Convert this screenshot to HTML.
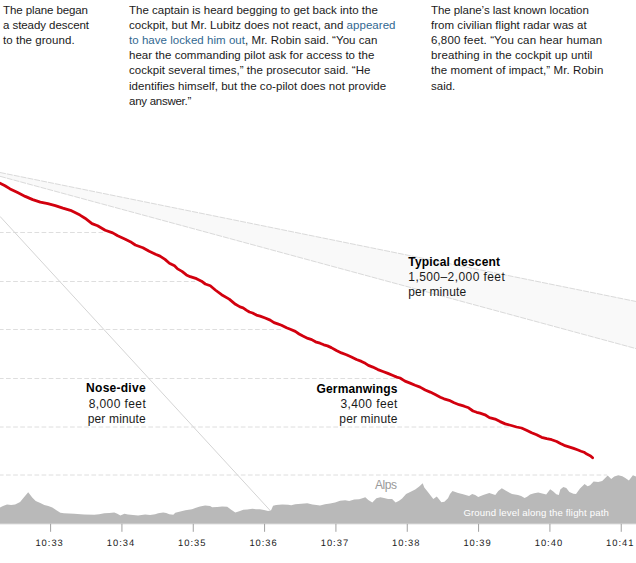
<!DOCTYPE html>
<html><head><meta charset="utf-8"><title>Germanwings descent</title>
<style>
html,body{margin:0;padding:0;background:#fff;}
body{width:636px;height:563px;overflow:hidden;position:relative;}
svg{position:absolute;left:0;top:0;display:block;}
text{font-family:"Liberation Sans",sans-serif;}
.p{font-size:11.5px;fill:#1a1a1a;}
.b{font-size:12px;font-weight:bold;fill:#000;}
.n{font-size:12px;fill:#1a1a1a;}
.ax{font-size:9.4px;fill:#1a1a1a;text-rendering:geometricPrecision;}
</style></head><body>
<svg width="636" height="563" viewBox="0 0 636 563">

<path d="M0,172.5 L636,301.48 L636,348.59 L0,176.3 Z" fill="#f9f9f9"/>
<line x1="0" y1="172.5" x2="636" y2="301.48" stroke="#dadada" stroke-width="1" stroke-dasharray="6,1"/>
<line x1="0" y1="176.3" x2="636" y2="348.59" stroke="#dadada" stroke-width="1" stroke-dasharray="6,1"/>
<line x1="0" y1="232.5" x2="103.3" y2="232.5" stroke="#dedede" stroke-width="1" stroke-dasharray="4.7,2.415" stroke-dashoffset="1.1"/>
<line x1="0" y1="281.5" x2="195.2" y2="281.5" stroke="#dedede" stroke-width="1" stroke-dasharray="4.7,2.415" stroke-dashoffset="1.1"/>
<line x1="0" y1="329.5" x2="281.5" y2="329.5" stroke="#dedede" stroke-width="1" stroke-dasharray="4.7,2.415" stroke-dashoffset="1.1"/>
<line x1="0" y1="378.5" x2="400" y2="378.5" stroke="#dedede" stroke-width="1" stroke-dasharray="4.7,2.415" stroke-dashoffset="1.1"/>
<line x1="0" y1="427" x2="509" y2="427" stroke="#dedede" stroke-width="1" stroke-dasharray="4.7,2.415" stroke-dashoffset="1.1"/>
<line x1="0" y1="475" x2="607" y2="475" stroke="#dedede" stroke-width="1" stroke-dasharray="4.7,2.415" stroke-dashoffset="1.1"/>
<line x1="0" y1="216.4" x2="269.8" y2="510.1" stroke="#d4d4d4" stroke-width="1"/>
<path d="M0,507.4 L3,506 L7,504.5 L11.1,505 L15.1,504.4 L20.1,502.1 L24.2,497.1 L28.2,492.3 L32.2,497.6 L35.7,501.1 L40.3,503.1 L44.3,505 L48.3,506 L52.3,507.4 L56.4,510.2 L60.4,512.7 L64,513.2 L74.1,513.7 L84.1,514.5 L94.2,514.7 L99.2,514.2 L104.3,513.2 L109.3,513 L114.3,512.5 L117.3,513.7 L120.4,515.4 L124.4,513.7 L128,514.6 L133,515 L138.1,515.4 L145.1,514.5 L150.1,514.9 L155.2,514.2 L158.2,513.2 L163.2,512.4 L166.2,513 L169.3,514.2 L173.3,514.7 L175.3,512.7 L180.3,511.4 L185.4,510.2 L192,509.2 L196,507.7 L200,506.4 L205.1,505.5 L210.1,506 L212.1,507.2 L217.2,506.9 L222.2,506.4 L227.2,506.7 L231.2,509.7 L235.3,512.4 L239.3,511.2 L243.3,509.7 L247.3,509.5 L252.4,508.7 L256,509.2 L260,509.2 L264,510 L268.1,511 L271.1,510.2 L273.1,505.7 L276.1,505 L282.2,504.5 L288.2,504.7 L291.2,505.2 L295.2,504.2 L301.3,503.7 L307.3,503.3 L312.4,504.4 L316.4,505 L320,505.4 L325,504.2 L330.1,503.4 L335.1,502.4 L340.1,500.7 L345.2,500.2 L349.2,501 L354.2,499.6 L359.2,499.3 L362.3,498.3 L365.3,497.3 L368.3,500 L372.3,502.4 L376.4,498.3 L380.4,497.3 L384,498.1 L388,498.9 L392.1,499.1 L395.6,502.4 L399.1,500.7 L402.1,498.6 L406.1,493.9 L411.2,491.6 L415.2,489.6 L419.2,486.6 L422.7,483.2 L424.3,487.6 L428.3,492.6 L433.3,499.1 L436.8,496.6 L441.4,502.2 L444.4,501.7 L448,498.3 L450,494.1 L452.5,490.9 L458.1,493.1 L463.1,494.3 L469.1,496.1 L472.2,494.1 L475.2,494.9 L478.2,497.1 L483.2,494.9 L489.3,493.1 L495.3,495.1 L498.3,491.1 L501.8,488.3 L506.4,491.1 L512,494.1 L518,495 L521.1,496 L524.6,498 L527.1,496.7 L530.1,494.4 L534.1,493.2 L538.2,492.4 L542.2,493.4 L546.2,494.4 L550.2,489.3 L553.3,491.6 L556.3,494.2 L558.8,495 L560.3,489.6 L563.3,487.1 L566.3,488.1 L569.4,491.9 L573.4,493.7 L576,494 L580,488.6 L584.6,484.1 L587.6,486.3 L590.1,485.3 L593.6,481.6 L598.2,482.1 L602.2,481.1 L605.2,478.1 L607.7,475.5 L611.2,479.1 L614.3,476.6 L618.3,475.2 L622.3,476.3 L625.3,477.9 L628.9,480.6 L632.9,475.2 L636,476.6 L636,523.8 L0,523.8 Z" fill="#b9b9b9"/>
<rect x="0" y="524" width="636" height="1" fill="#efefef"/>
<line x1="50.6" y1="523.8" x2="50.6" y2="531.8" stroke="#a0a0a0" stroke-width="1"/>
<text class="ax" transform="translate(49.1,545.8) scale(1,1)" x="0" y="0" text-anchor="middle" textLength="27.4" lengthAdjust="spacing">10:33</text>
<line x1="121.93" y1="523.8" x2="121.93" y2="531.8" stroke="#a0a0a0" stroke-width="1"/>
<text class="ax" transform="translate(120.43,545.8) scale(1,1)" x="0" y="0" text-anchor="middle" textLength="27.4" lengthAdjust="spacing">10:34</text>
<line x1="193.26" y1="523.8" x2="193.26" y2="531.8" stroke="#a0a0a0" stroke-width="1"/>
<text class="ax" transform="translate(191.76,545.8) scale(1,1)" x="0" y="0" text-anchor="middle" textLength="27.4" lengthAdjust="spacing">10:35</text>
<line x1="264.59" y1="523.8" x2="264.59" y2="531.8" stroke="#a0a0a0" stroke-width="1"/>
<text class="ax" transform="translate(263.09,545.8) scale(1,1)" x="0" y="0" text-anchor="middle" textLength="27.4" lengthAdjust="spacing">10:36</text>
<line x1="335.92" y1="523.8" x2="335.92" y2="531.8" stroke="#a0a0a0" stroke-width="1"/>
<text class="ax" transform="translate(334.42,545.8) scale(1,1)" x="0" y="0" text-anchor="middle" textLength="27.4" lengthAdjust="spacing">10:37</text>
<line x1="407.25" y1="523.8" x2="407.25" y2="531.8" stroke="#a0a0a0" stroke-width="1"/>
<text class="ax" transform="translate(405.75,545.8) scale(1,1)" x="0" y="0" text-anchor="middle" textLength="27.4" lengthAdjust="spacing">10:38</text>
<line x1="478.58" y1="523.8" x2="478.58" y2="531.8" stroke="#a0a0a0" stroke-width="1"/>
<text class="ax" transform="translate(477.08,545.8) scale(1,1)" x="0" y="0" text-anchor="middle" textLength="27.4" lengthAdjust="spacing">10:39</text>
<line x1="549.91" y1="523.8" x2="549.91" y2="531.8" stroke="#a0a0a0" stroke-width="1"/>
<text class="ax" transform="translate(548.41,545.8) scale(1,1)" x="0" y="0" text-anchor="middle" textLength="27.4" lengthAdjust="spacing">10:40</text>
<line x1="621.24" y1="523.8" x2="621.24" y2="531.8" stroke="#a0a0a0" stroke-width="1"/>
<text class="ax" transform="translate(619.74,545.8) scale(1,1)" x="0" y="0" text-anchor="middle" textLength="27.4" lengthAdjust="spacing">10:41</text>
<path d="M0,183.2 L5,185.7 L10.1,188.9 L17.6,192.6 L25.2,196.4 L32.7,199.6 L40.3,202.1 L47.8,203.7 L55.3,205.6 L62.9,208.1 L70.4,210.3 L75.5,212.8 L80,215.1 L85,218.2 L92,223.6 L97.6,225.8 L105.2,230.2 L112.7,232.9 L117.7,235.8 L125.3,239.2 L130.3,241.7 L135.3,245 L142.9,247.8 L149.2,251.3 L155.5,254.3 L160,256.1 L165,259.4 L169.4,263.2 L174.5,265.7 L177.6,268.9 L182,271.4 L186.4,274.9 L190.2,276.7 L196.5,278.7 L201.5,281.2 L205.3,284 L210.3,285.8 L215.3,290 L221.6,294.7 L229.2,299.1 L235.5,304.3 L240,306.9 L243.1,307.8 L246.3,310.1 L249.4,312 L252.6,313 L256.4,315.1 L260.1,316.1 L265.2,318 L270.2,320.1 L274,322.6 L277.7,323.9 L281.5,325.2 L286.5,327.7 L290.3,329.3 L295.3,331.4 L299.1,334 L302.9,336.1 L307.9,338.4 L311.7,339.6 L315.5,341.8 L320,343.2 L323.8,344.8 L327.5,345.9 L331.3,347.6 L336.4,350.5 L341.4,352.9 L346.4,354.7 L351.4,357 L356.5,359.5 L361.5,361.4 L365.3,363.3 L368.4,365.4 L372.8,367.1 L377.9,369.6 L382.9,371.5 L387.9,373.4 L393,375.5 L396.7,377.1 L400,378 L405,381.1 L410.1,383.1 L415.1,385.2 L420.1,387.1 L425.2,390 L430.2,392.1 L435.2,394.6 L440.3,397.2 L444,398.8 L449.1,400.3 L454.1,402.8 L459.1,404.7 L464.2,406.2 L468.6,407.8 L473,411 L476.7,412.3 L480,413.2 L485,414.8 L489.4,417.6 L495.1,419.1 L500.1,421.6 L505.2,423.9 L511.4,425.5 L516.5,427 L521.5,428 L526.5,430.2 L531.6,432.7 L536.6,434.8 L541.6,437.3 L546.7,438.7 L551.7,439.7 L556.7,441.5 L560.4,443.5 L564.2,445.3 L568.9,446.8 L573.6,448.4 L577.4,449.8 L581.1,451.2 L584,452.2 L586.8,454.1 L590.6,455.9 L592.6,457.8" fill="none" stroke="#d2000e" stroke-width="2.8" stroke-linejoin="round" stroke-linecap="round"/>
<text class="p" x="3" y="13.7" textLength="85" lengthAdjust="spacing">The plane began</text>
<text class="p" x="3" y="28.87" textLength="86" lengthAdjust="spacing">a steady descent</text>
<text class="p" x="3" y="44.04" textLength="71.6" lengthAdjust="spacing">to the ground.</text>
<text class="p" x="129" y="13.7" textLength="248.8" lengthAdjust="spacing">The captain is heard begging to get back into the</text>
<text class="p" x="129" y="28.87" textLength="266.5" lengthAdjust="spacing">cockpit, but Mr. Lubitz does not react, and <tspan fill="#326891">appeared</tspan></text>
<text class="p" x="129" y="44.04" textLength="248.4" lengthAdjust="spacing"><tspan fill="#326891">to have locked him out</tspan>, Mr. Robin said. “You can</text>
<text class="p" x="129" y="59.21" textLength="245.3" lengthAdjust="spacing">hear the commanding pilot ask for access to the</text>
<text class="p" x="129" y="74.38" textLength="241.4" lengthAdjust="spacing">cockpit several times,” the prosecutor said. “He</text>
<text class="p" x="129" y="89.55" textLength="257.1" lengthAdjust="spacing">identifies himself, but the co-pilot does not provide</text>
<text class="p" x="129" y="104.72" textLength="62.3" lengthAdjust="spacing">any answer.”</text>
<text class="p" x="431" y="13.7" textLength="157.8" lengthAdjust="spacing">The plane’s last known location</text>
<text class="p" x="431" y="28.87" textLength="155.7" lengthAdjust="spacing">from civilian flight radar was at</text>
<text class="p" x="431" y="44.04" textLength="171.1" lengthAdjust="spacing">6,800 feet. “You can hear human</text>
<text class="p" x="431" y="59.21" textLength="161.4" lengthAdjust="spacing">breathing in the cockpit up until</text>
<text class="p" x="431" y="74.38" textLength="172.3" lengthAdjust="spacing">the moment of impact,” Mr. Robin</text>
<text class="p" x="431" y="89.55" textLength="24.3" lengthAdjust="spacing">said.</text>
<text class="b" x="408.3" y="265.5" text-anchor="start" textLength="91.8" lengthAdjust="spacing">Typical descent</text>
<text class="n" x="408.3" y="281" text-anchor="start" textLength="96.5" lengthAdjust="spacing">1,500–2,000 feet</text>
<text class="n" x="408.3" y="296.3" text-anchor="start" textLength="57.8" lengthAdjust="spacing">per minute</text>
<text class="b" x="145.6" y="392.3" text-anchor="end" textLength="59.5" lengthAdjust="spacing">Nose-dive</text>
<text class="n" x="145.8" y="407.7" text-anchor="end" textLength="57.1" lengthAdjust="spacing">8,000 feet</text>
<text class="n" x="145.8" y="422.5" text-anchor="end" textLength="58.1" lengthAdjust="spacing">per minute</text>
<text class="b" x="397.4" y="392.5" text-anchor="end" textLength="80.9" lengthAdjust="spacing">Germanwings</text>
<text class="n" x="397.4" y="407.9" text-anchor="end" textLength="57" lengthAdjust="spacing">3,400 feet</text>
<text class="n" x="397.4" y="422.5" text-anchor="end" textLength="58.1" lengthAdjust="spacing">per minute</text>
<text x="375" y="488.7" font-size="12" fill="#999" textLength="22" lengthAdjust="spacing">Alps</text>
<text x="463.4" y="516" font-size="9.6" fill="#fff" textLength="145.4" lengthAdjust="spacing">Ground level along the flight path</text>
</svg>
</body></html>
